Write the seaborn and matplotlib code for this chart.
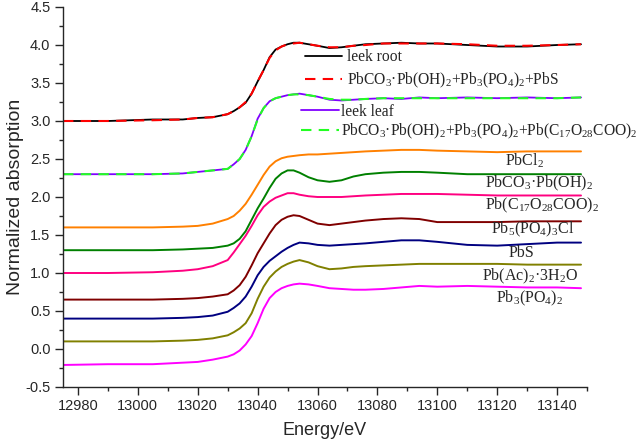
import numpy as np
import pandas as pd
import seaborn as sns
import matplotlib.pyplot as plt
from matplotlib.ticker import MultipleLocator

# ------------------------------
# data (normalized XANES, offset stacked)
# ------------------------------
energy = [12975, 12990, 13005, 13015, 13020, 13025,
          13030, 13032, 13034, 13036, 13038, 13040, 13042, 13044, 13046,
          13048, 13050, 13052, 13054, 13057, 13060,
          13064, 13068, 13072, 13076, 13082, 13088, 13094, 13100, 13110,
          13120, 13130, 13140, 13148]

leek_root = [3.00, 3.00, 3.02, 3.02, 3.04, 3.05,
             3.09, 3.13, 3.18, 3.24, 3.36, 3.52, 3.67, 3.84, 3.94,
             3.98, 4.01, 4.03, 4.03, 4.01, 3.99,
             3.96, 3.97, 3.99, 4.01, 4.02, 4.03, 4.02, 4.02, 4.00,
             3.98, 3.98, 4.00, 4.01]
root_fit = [3.00, 3.00, 3.01, 3.02, 3.04, 3.05,
            3.09, 3.13, 3.18, 3.25, 3.36, 3.52, 3.67, 3.83, 3.93,
            3.98, 4.01, 4.02, 4.03, 4.01, 3.99,
            3.97, 3.97, 3.99, 4.00, 4.02, 4.02, 4.02, 4.02, 4.01,
            3.99, 3.99, 4.00, 4.01]
leek_leaf = [2.30, 2.30, 2.30, 2.31, 2.33, 2.35,
             2.37, 2.43, 2.50, 2.62, 2.80, 3.03, 3.17, 3.26, 3.30,
             3.32, 3.34, 3.35, 3.36, 3.34, 3.32,
             3.28, 3.27, 3.28, 3.29, 3.30, 3.29, 3.31, 3.30, 3.31,
             3.30, 3.31, 3.30, 3.31]
leaf_fit = [2.30, 2.30, 2.30, 2.31, 2.33, 2.35,
            2.37, 2.43, 2.50, 2.62, 2.80, 3.02, 3.17, 3.26, 3.30,
            3.32, 3.34, 3.35, 3.35, 3.34, 3.32,
            3.29, 3.28, 3.28, 3.29, 3.30, 3.30, 3.30, 3.30, 3.30,
            3.30, 3.30, 3.30, 3.31]

pbcl2 = [1.60, 1.60, 1.60, 1.61, 1.62, 1.65,
         1.71, 1.75, 1.82, 1.91, 2.03, 2.16, 2.29, 2.40, 2.47,
         2.51, 2.53, 2.54, 2.55, 2.56, 2.56,
         2.57, 2.58, 2.59, 2.60, 2.61, 2.62, 2.62, 2.61, 2.60,
         2.59, 2.60, 2.60, 2.60]
pbco3 = [1.30, 1.30, 1.30, 1.31, 1.32, 1.33,
         1.36, 1.39, 1.45, 1.55, 1.70, 1.85, 1.98, 2.12, 2.24,
         2.31, 2.35, 2.35, 2.32, 2.26, 2.22,
         2.20, 2.22, 2.27, 2.30, 2.32, 2.33, 2.33, 2.32, 2.30,
         2.30, 2.30, 2.30, 2.30]
pb_stearate = [1.00, 1.00, 1.01, 1.03, 1.05, 1.09,
               1.17, 1.27, 1.38, 1.49, 1.62, 1.76, 1.87, 1.94, 1.99,
               2.02, 2.05, 2.05, 2.03, 2.01, 2.00,
               2.00, 2.00, 2.01, 2.02, 2.03, 2.04, 2.04, 2.04, 2.03,
               2.02, 2.02, 2.02, 2.02]
pyromorphite = [0.65, 0.65, 0.65, 0.66, 0.67, 0.69,
                0.72, 0.77, 0.84, 0.95, 1.10, 1.26, 1.39, 1.52, 1.63,
                1.70, 1.74, 1.76, 1.75, 1.70, 1.65,
                1.63, 1.65, 1.67, 1.69, 1.71, 1.72, 1.71, 1.67, 1.67,
                1.67, 1.68, 1.68, 1.68]
pbs = [0.40, 0.40, 0.40, 0.41, 0.42, 0.44,
       0.49, 0.54, 0.60, 0.69, 0.82, 0.97, 1.08, 1.16, 1.22,
       1.28, 1.33, 1.37, 1.40, 1.39, 1.37,
       1.36, 1.37, 1.38, 1.39, 1.41, 1.43, 1.43, 1.41, 1.37,
       1.36, 1.38, 1.40, 1.40]
pb_acetate = [0.10, 0.10, 0.10, 0.11, 0.12, 0.14,
              0.18, 0.22, 0.27, 0.34, 0.47, 0.66, 0.82, 0.94, 1.02,
              1.08, 1.12, 1.15, 1.17, 1.14, 1.09,
              1.05, 1.06, 1.08, 1.09, 1.10, 1.11, 1.12, 1.12, 1.12,
              1.12, 1.11, 1.11, 1.11]
pb3po4 = [-0.21, -0.20, -0.20, -0.18, -0.17, -0.14,
          -0.10, -0.07, -0.02, 0.06, 0.17, 0.34, 0.53, 0.67, 0.75,
          0.80, 0.83, 0.85, 0.86, 0.85, 0.83,
          0.80, 0.79, 0.78, 0.78, 0.79, 0.81, 0.83, 0.82, 0.83,
          0.82, 0.81, 0.81, 0.80]

legend_labels = [
    "leek root",
    r"PbCO$_3$·Pb(OH)$_2$+Pb$_3$(PO$_4$)$_2$+PbS",
    "leek leaf",
    r"PbCO$_3$·Pb(OH)$_2$+Pb$_3$(PO$_4$)$_2$+Pb(C$_{17}$O$_{28}$COO)$_2$",
]
ref_labels = [
    r"PbCl$_2$",
    r"PbCO$_3$·Pb(OH)$_2$",
    r"Pb(C$_{17}$O$_{28}$COO)$_2$",
    r"Pb$_5$(PO$_4$)$_3$Cl",
    "PbS",
    r"Pb(Ac)$_2$·3H$_2$O",
    r"Pb$_3$(PO$_4$)$_2$",
]

# ------------------------------
# style
# ------------------------------
sns.set_style("ticks")
plt.rcParams["font.family"] = ["Liberation Sans", "DejaVu Sans"]
plt.rcParams["mathtext.fontset"] = "custom"
plt.rcParams["mathtext.rm"] = "Liberation Serif"
plt.rcParams["mathtext.it"] = "Liberation Serif:italic"

fig = plt.figure(figsize=(6.4, 4.43), dpi=100)
ax = fig.add_axes([63 / 640, 56 / 443, 524 / 640, 380 / 443])

samples = [
    (leek_root, "#000000", "-"),
    (root_fit, "#ff0000", "--"),
    (leek_leaf, "#8000ff", "-"),
    (leaf_fit, "#22ff22", "--"),
]
refs = [
    (pbcl2, "#ff8000"),
    (pbco3, "#008000"),
    (pb_stearate, "#ff0080"),
    (pyromorphite, "#800000"),
    (pbs, "#000080"),
    (pb_acetate, "#808000"),
    (pb3po4, "#ff00ff"),
]

for vals, col in refs:
    sns.lineplot(x=energy, y=vals, color=col, lw=1.4, ax=ax)

handles = []
for vals, col, ls in samples:
    sns.lineplot(x=energy, y=vals, color=col, lw=1.5 if ls == "--" else 1.3, ax=ax)
    line = ax.lines[-1]
    if ls == "--":
        line.set_dashes((5, 3.5))
    handles.append(line)

# labels under each reference curve
label_pos = [(13129, 2.47), (13134, 2.18), (13135, 1.89), (13132, 1.57),
             (13128, 1.26), (13131, 0.95), (13131, 0.67)]
for txt, (xp, yp) in zip(ref_labels, label_pos):
    ax.text(xp, yp, txt, ha="center", va="center", fontsize=11.5,
            family=["Liberation Serif"])

leg_kw = dict(frameon=False, loc="upper left", borderpad=0, borderaxespad=0,
              handlelength=2.4, prop={"family": "Liberation Serif", "size": 11.2})
leg1 = ax.legend(handles[:2], legend_labels[:2], bbox_to_anchor=(0.462, 0.889),
                 handletextpad=0.3, labelspacing=0.35, **leg_kw)
ax.add_artist(leg1)
ax.legend(handles[2:], legend_labels[2:], bbox_to_anchor=(0.455, 0.745),
          handletextpad=0.15, labelspacing=0.1, **leg_kw)

# axes
ax.set_xlim(12975, 13150)
ax.set_ylim(-0.5, 4.5)
ax.xaxis.set_major_locator(MultipleLocator(20))
ax.xaxis.set_minor_locator(MultipleLocator(10))
ax.yaxis.set_major_locator(MultipleLocator(0.5))
ax.yaxis.set_minor_locator(MultipleLocator(0.25))
ax.yaxis.set_major_formatter(plt.FuncFormatter(lambda v, p: f"{v:.1f}"))
ax.tick_params(which="major", direction="out", length=5.5, width=1, labelsize=10.5)
ax.tick_params(which="minor", direction="out", length=3, width=1)
sns.despine(ax=ax)
for s in ("left", "bottom"):
    ax.spines[s].set_linewidth(1)

ax.set_xlabel("Energy/eV", fontsize=13, labelpad=6)
ax.set_ylabel("Normalized absorption", fontsize=14, labelpad=1)

fig.savefig("out.png", dpi=100)
